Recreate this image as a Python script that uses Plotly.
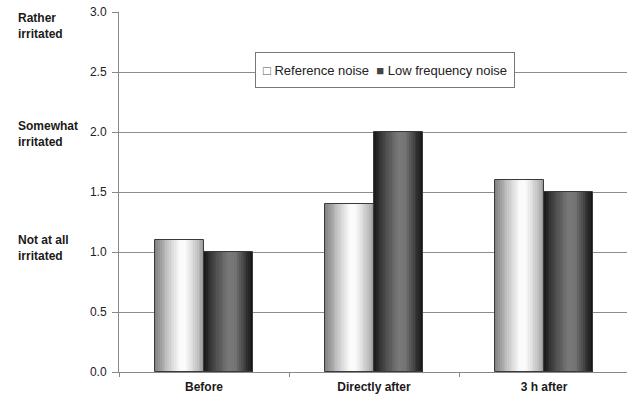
import plotly.graph_objects as go

categories = ["Before", "Directly after", "3 h after"]
reference_noise = [1.1, 1.4, 1.6]
low_freq_noise = [1.0, 2.0, 1.5]
y_ticks = [0.0, 0.5, 1.0, 1.5, 2.0, 2.5, 3.0]
level_labels = ["Rather<br>irritated", "Somewhat<br>irritated", "Not at all<br>irritated"]
level_values = [2.88, 1.98, 1.03]
series_names = ["Reference noise", "Low frequency noise"]

BAR_W = 0.29
N = 28


def lerp(a, b, t):
    return a + (b - a) * t


def grad(stops, t):
    for (t0, c0), (t1, c1) in zip(stops, stops[1:]):
        if t0 <= t <= t1:
            u = (t - t0) / (t1 - t0) if t1 > t0 else 0
            v = int(round(lerp(c0, c1, u)))
            return f"rgb({v},{v},{v})"
    v = stops[-1][1]
    return f"rgb({v},{v},{v})"


ref_stops = [(0.0, 125), (0.25, 195), (0.5, 250), (0.62, 252), (0.85, 200), (1.0, 150)]
lfn_stops = [(0.0, 25), (0.2, 70), (0.5, 122), (0.65, 115), (0.88, 45), (1.0, 20)]

fig = go.Figure()

for name, values, stops, base in [(series_names[0], reference_noise, ref_stops, -BAR_W),
                                  (series_names[1], low_freq_noise, lfn_stops, 0.0)]:
    sw = BAR_W / N
    for i in range(N):
        t = (i + 0.5) / N
        fig.add_trace(go.Bar(
            x=categories, y=values, width=sw * 1.15 if i < N - 1 else sw,
            offset=base + i * sw, name=name,
            marker=dict(color=grad(stops, t), line=dict(width=0)),
            showlegend=False, hoverinfo="skip",
        ))
    fig.add_trace(go.Bar(
        x=categories, y=values, width=BAR_W, offset=base, name=name,
        marker=dict(color="rgba(0,0,0,0)", line=dict(color="#3a3a3a", width=1)),
        showlegend=False,
    ))

for txt, yv in zip(level_labels, level_values):
    fig.add_annotation(text=f"<b>{txt}</b>", xref="paper", yref="y",
                       x=-0.203, y=yv, xanchor="left", yanchor="middle",
                       showarrow=False, align="left",
                       font=dict(family="Liberation Sans, Arial", size=12, color="#1a1a1a"))

legend_text = (f"<span style='color:#555'>□</span> {series_names[0]}  "
               f"<span style='color:#444'>■</span> {series_names[1]}")
fig.add_annotation(text=legend_text, xref="paper", yref="paper",
                   x=0.2675, y=0.839, xanchor="left", yanchor="middle",
                   showarrow=False, align="center", width=258, height=34,
                   bgcolor="white", bordercolor="#777", borderwidth=1, borderpad=0,
                   font=dict(family="Liberation Sans, Arial", size=13, color="#222"))

fig.update_layout(
    width=627, height=398,
    margin=dict(l=119, r=0, t=12, b=26),
    paper_bgcolor="white", plot_bgcolor="white",
    barmode="overlay", bargap=0, showlegend=False,
    font=dict(family="Liberation Sans, Arial", size=12, color="#333"),
    xaxis=dict(type="category", categoryorder="array", categoryarray=categories,
               range=[-0.5, 2.488], showline=True, linecolor="#888", linewidth=1,
               ticks="outside", tickson="boundaries", ticklen=4, tickcolor="#888",
               showgrid=False, ticklabelstandoff=4,
               tickfont=dict(family="Liberation Sans, Arial", size=12, color="#1a1a1a",
                             weight="bold")),
    yaxis=dict(range=[0, 3.0], tickvals=y_ticks, ticktext=[f"{v:.1f}" for v in y_ticks],
               showline=True, linecolor="#888", linewidth=1,
               ticks="outside", ticklen=6, tickcolor="#888",
               showgrid=True, gridcolor="#8c8c8c", gridwidth=1,
               zeroline=False, ticklabelstandoff=3, ticklabeloverflow="allow",
               tickfont=dict(size=12, color="#222")),
)

fig.write_html("out.html", config={"displayModeBar": False},
               post_script="document.body.style.margin='0';")
